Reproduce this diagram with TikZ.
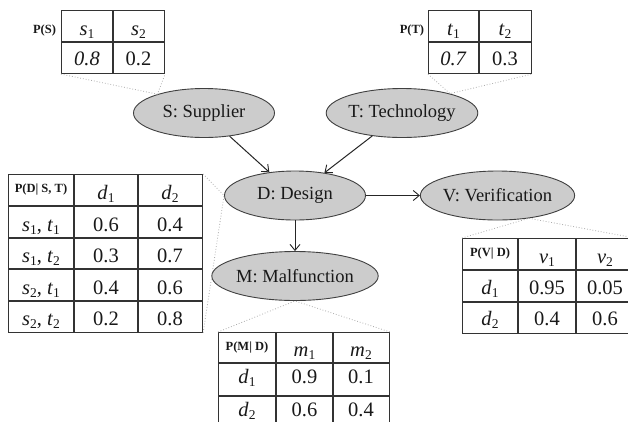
\documentclass[tikz,border=0pt]{standalone}
\usepackage{fontspec}
\setmainfont{Liberation Serif}
\usetikzlibrary{shapes.geometric,arrows.meta}
\newcommand{\lsub}[1]{\raisebox{-0.32ex}{\fontsize{13.5}{13.5}\selectfont\upshape #1}}
\newcommand{\vsb}[2]{\textit{#1}\lsub{#2}}
\tikzset{
  ell/.style={ellipse, draw=black!75, fill=black!20, line width=0.9pt,
    minimum width=141pt, minimum height=49pt, inner sep=0pt,
    font=\fontsize{18.5}{18.5}\selectfont, text=black!90},
  arr/.style={-{Straight Barb[length=6pt,width=10pt,line width=0.9pt]}, line width=1pt, draw=black!85},
  gridln/.style={draw=black!80, line width=1.1pt},
  tframe/.style={draw=black!80, line width=1.1pt, inner sep=0pt, anchor=north west},
  lead/.style={draw=black!32, dotted, line width=0.8pt},
  val/.style={anchor=base, inner sep=0pt, font=\fontsize{20.5}{20.5}\selectfont, text=black!90},
  hdr/.style={inner sep=0pt, font=\fontsize{12.5}{12.5}\selectfont\bfseries, text=black!90},
}
\begin{document}
\begin{tikzpicture}[x=1pt,y=-1pt]
\useasboundingbox (0,0) rectangle (628,421);
\clip (0,0) rectangle (628,421);
\fill[white] (0,0) rectangle (628,421);

% ellipses
\node[ell] (S) at (204,113) {S: Supplier};
\node[ell] (T) at (402,113) {T: Technology};
\node[ell] (D) at (295,195.5) {D: Design};
\node[ell] (V) at (497.5,195.5) {V: Verification};
\node[ell] (M) at (295,276) {M: Malfunction};

% table frames
\node[tframe, minimum width=103pt, minimum height=63pt] (PSf) at (61,10) {};
\node[tframe, minimum width=103pt, minimum height=63pt] (PTf) at (428,10) {};
\node[tframe, minimum width=194pt, minimum height=158pt] (PDf) at (8,174) {};
\node[tframe, minimum width=172pt, minimum height=95pt] (PVf) at (462,238) {};
\node[tframe, minimum width=171pt, minimum height=96pt] (PMf) at (218,332) {};

% dotted leaders
\draw[lead] (PSf.south west) -- (S.158) -- (PSf.south east);
\draw[lead] (PTf.south west) -- (T.22) -- (PTf.south east);
\draw[lead] (PDf.north east) -- (D.west) -- (PDf.south east);
\draw[lead] (PVf.north west) -- (V.-36) -- (PVf.north east);
\draw[lead] (PMf.north west) -- (M.south) -- (PMf.north east);

% arrows
\draw[arr] (S) -- (D);
\draw[arr] (T) -- (D);
\draw[arr] (D) -- (V);
\draw[arr] (D) -- (M);

% P(S)
\draw[gridln] (113,10) -- (113,73) (61,42) -- (164,42);
\node[hdr] (PSl) at (44.5,30) {P(S)};
\node[val] (ps1) at (87,35) {\vsb{s}{1}};
\node[val] (ps2) at (138.5,35) {\vsb{s}{2}};
\node[val] (ps3) at (87,65) {\textit{0.8}};
\node[val] (ps4) at (138.5,65) {0.2};

% P(T)
\draw[gridln] (479,10) -- (479,73) (428,42) -- (531,42);
\node[hdr] (PTl) at (412,30) {P(T)};
\node[val] (pt1) at (453.5,35) {\vsb{t}{1}};
\node[val] (pt2) at (505,35) {\vsb{t}{2}};
\node[val] (pt3) at (453.5,65) {\textit{0.7}};
\node[val] (pt4) at (505,65) {0.3};

% P(D|S,T)
\draw[gridln] (74,174) -- (74,332) (138,174) -- (138,332)
  (8,206) -- (202,206) (8,238) -- (202,238) (8,269) -- (202,269) (8,301) -- (202,301);
\node[hdr] (PDl) at (41,190) {P(D| S, T)};
\node[val] (pd1) at (106,199) {\vsb{d}{1}};
\node[val] (pd2) at (170,199) {\vsb{d}{2}};
\node[val] (pd3) at (41,231) {\vsb{s}{1}, \vsb{t}{1}};
\node[val] (pd4) at (106,231) {0.6};
\node[val] (pd5) at (170,231) {0.4};
\node[val] (pd6) at (41,262) {\vsb{s}{1}, \vsb{t}{2}};
\node[val] (pd7) at (106,262) {0.3};
\node[val] (pd8) at (170,262) {0.7};
\node[val] (pd9) at (41,294) {\vsb{s}{2}, \vsb{t}{1}};
\node[val] (pd10) at (106,294) {0.4};
\node[val] (pd11) at (170,294) {0.6};
\node[val] (pd12) at (41,325) {\vsb{s}{2}, \vsb{t}{2}};
\node[val] (pd13) at (106,325) {0.2};
\node[val] (pd14) at (170,325) {0.8};

% P(V|D)
\draw[gridln] (518,238) -- (518,333) (576,238) -- (576,333)
  (462,270) -- (634,270) (462,302) -- (634,302);
\node[hdr] (PVl) at (490,254) {P(V| D)};
\node[val] (pv1) at (547,263) {\vsb{v}{1}};
\node[val] (pv2) at (605,263) {\vsb{v}{2}};
\node[val] (pv3) at (490,294) {\vsb{d}{1}};
\node[val] (pv4) at (547,294) {0.95};
\node[val] (pv5) at (605,294) {0.05};
\node[val] (pv6) at (490,325) {\vsb{d}{2}};
\node[val] (pv7) at (547,325) {0.4};
\node[val] (pv8) at (605,325) {0.6};

% P(M|D)
\draw[gridln] (276,332) -- (276,428) (333,332) -- (333,428)
  (218,363) -- (389,363) (218,396) -- (389,396);
\node[hdr] (PMl) at (247,348) {P(M| D)};
\node[val] (pm1) at (304.5,356) {\vsb{m}{1}};
\node[val] (pm2) at (361,356) {\vsb{m}{2}};
\node[val] (pm3) at (247,383) {\vsb{d}{1}};
\node[val] (pm4) at (304.5,383) {0.9};
\node[val] (pm5) at (361,383) {0.1};
\node[val] (pm6) at (247,416) {\vsb{d}{2}};
\node[val] (pm7) at (304.5,416) {0.6};
\node[val] (pm8) at (361,416) {0.4};
\end{tikzpicture}
\end{document}
